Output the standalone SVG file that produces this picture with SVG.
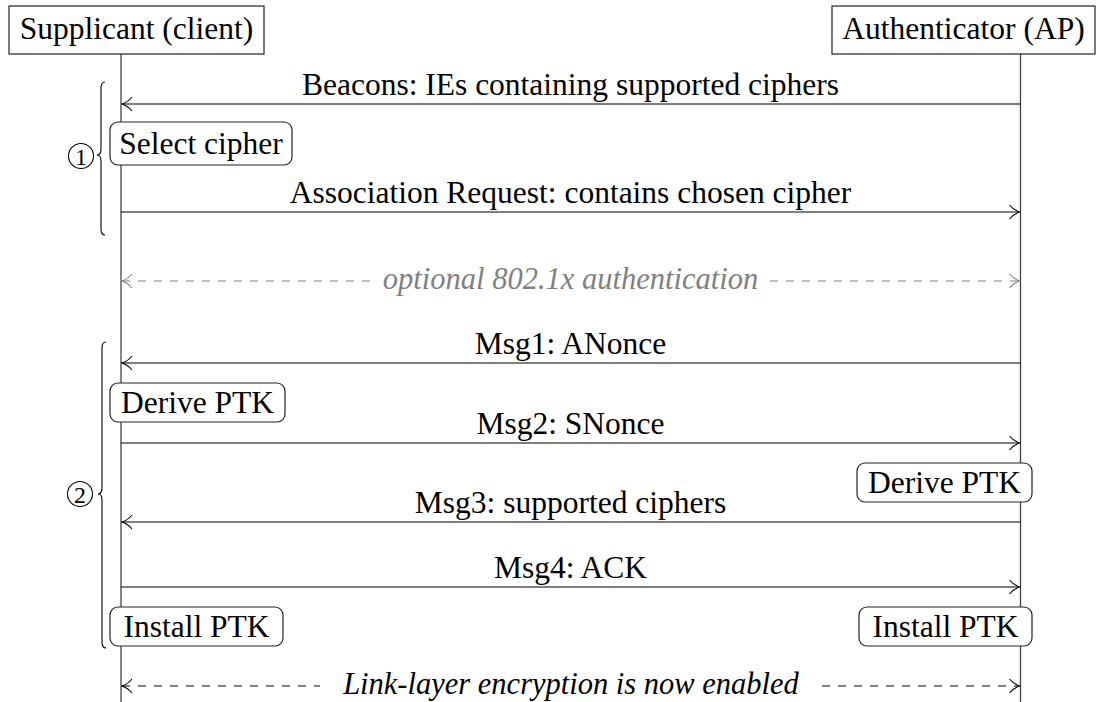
<svg xmlns="http://www.w3.org/2000/svg" width="1099" height="702" viewBox="0 0 1099 702">
<defs>
<marker id="ah" viewBox="0 0 12 16" refX="11" refY="8" markerWidth="12" markerHeight="16" markerUnits="userSpaceOnUse" orient="auto-start-reverse">
<path d="M1,1 Q5,6 11,8 Q5,10 1,15" fill="none" stroke="#000" stroke-width="1.1"/>
</marker>
<marker id="ahg" viewBox="0 0 12 16" refX="11" refY="8" markerWidth="12" markerHeight="16" markerUnits="userSpaceOnUse" orient="auto-start-reverse">
<path d="M1,1 Q5,6 11,8 Q5,10 1,15" fill="none" stroke="#808080" stroke-width="1.1"/>
</marker>
</defs>
<rect width="1099" height="702" fill="#fff"/>
<g id="lifelines" stroke="#444" stroke-width="1.3" fill="none">
<line x1="121" y1="54" x2="121" y2="702"/>
<line x1="1020.5" y1="54" x2="1020.5" y2="702"/>
</g>
<g font-size="31.5" text-anchor="middle" fill="#000">
<g id="supplicant">
<rect x="9" y="6" width="255" height="48" fill="#fff" stroke="#222" stroke-width="1.2"/>
<text x="136.5" y="39" font-family="Liberation Serif">Supplicant (client)</text>
</g>
<g id="authenticator">
<rect x="832" y="6" width="263" height="48" fill="#fff" stroke="#222" stroke-width="1.2"/>
<text x="963.5" y="39" font-family="Liberation Serif">Authenticator (AP)</text>
</g>
<g id="connectors" fill="none" stroke-width="1.2">
<line stroke="#000" x1="1020.5" y1="104" x2="122" y2="104" marker-end="url(#ah)"/>
<line stroke="#000" x1="121" y1="212" x2="1019.5" y2="212" marker-end="url(#ah)"/>
<line stroke="#808080" stroke-dasharray="8 8" x1="122" y1="281" x2="372" y2="281" marker-start="url(#ahg)"/>
<line stroke="#808080" stroke-dasharray="8 8" x1="770" y1="281" x2="1019.5" y2="281" marker-end="url(#ahg)"/>
<line stroke="#000" x1="1020.5" y1="363" x2="122" y2="363" marker-end="url(#ah)"/>
<line stroke="#000" x1="121" y1="443" x2="1019.5" y2="443" marker-end="url(#ah)"/>
<line stroke="#000" x1="1020.5" y1="522" x2="122" y2="522" marker-end="url(#ah)"/>
<line stroke="#000" x1="121" y1="587" x2="1019.5" y2="587" marker-end="url(#ah)"/>
<line stroke="#000" stroke-dasharray="8 8" x1="122" y1="686" x2="320" y2="686" marker-start="url(#ah)"/>
<line stroke="#000" stroke-dasharray="8 8" x1="822" y1="686" x2="1019.5" y2="686" marker-end="url(#ah)"/>
</g>
<g id="labels">
<text x="570.5" y="95" font-family="Liberation Serif">Beacons: IEs containing supported ciphers</text>
<text x="570.5" y="203" font-family="Liberation Serif">Association Request: contains chosen cipher</text>
<text x="570.5" y="289" font-family="Liberation Serif" font-style="italic" font-size="30.5" fill="#808080">optional 802.1x authentication</text>
<text x="570.5" y="354" font-family="Liberation Serif">Msg1: ANonce</text>
<text x="570.5" y="434" font-family="Liberation Serif">Msg2: SNonce</text>
<text x="570.5" y="513" font-family="Liberation Serif">Msg3: supported ciphers</text>
<text x="570.5" y="578" font-family="Liberation Serif">Msg4: ACK</text>
<text x="571" y="694" font-family="Liberation Serif" font-style="italic" font-size="30.5">Link-layer encryption is now enabled</text>
</g>
<g id="select-cipher">
<rect x="110" y="122" width="182" height="43" rx="8" fill="#fff" stroke="#222" stroke-width="1.2"/>
<text x="201" y="154" font-family="Liberation Serif">Select cipher</text>
</g>
<g id="derive-ptk-client">
<rect x="110" y="383" width="175" height="39" rx="8" fill="#fff" stroke="#222" stroke-width="1.2"/>
<text x="197.5" y="413" font-family="Liberation Serif">Derive PTK</text>
</g>
<g id="derive-ptk-ap">
<rect x="857" y="463" width="175" height="39" rx="8" fill="#fff" stroke="#222" stroke-width="1.2"/>
<text x="944.5" y="493" font-family="Liberation Serif">Derive PTK</text>
</g>
<g id="install-ptk-client">
<rect x="110" y="607" width="173" height="39" rx="8" fill="#fff" stroke="#222" stroke-width="1.2"/>
<text x="196.5" y="637" font-family="Liberation Serif">Install PTK</text>
</g>
<g id="install-ptk-ap">
<rect x="859" y="607" width="173" height="39" rx="8" fill="#fff" stroke="#222" stroke-width="1.2"/>
<text x="945.5" y="637" font-family="Liberation Serif">Install PTK</text>
</g>
<g id="phase1">
<path d="M105,82 Q101,82 101,88 L101,149 Q101,155 97,155 Q101,155 101,161 L101,229 Q101,235 105,235" fill="none" stroke="#000" stroke-width="1.1"/>
<circle cx="81" cy="156" r="12.5" fill="none" stroke="#000" stroke-width="1.1"/>
<text x="81" y="164.5" font-family="Liberation Serif" font-size="24">1</text>
</g>
<g id="phase2">
<path d="M106,342 Q102,342 102,348 L102,488 Q102,494 98,494 Q102,494 102,500 L102,642 Q102,648 106,648" fill="none" stroke="#000" stroke-width="1.1"/>
<circle cx="80" cy="494" r="12.5" fill="none" stroke="#000" stroke-width="1.1"/>
<text x="80" y="502.5" font-family="Liberation Serif" font-size="24">2</text>
</g>
</g>
</svg>
